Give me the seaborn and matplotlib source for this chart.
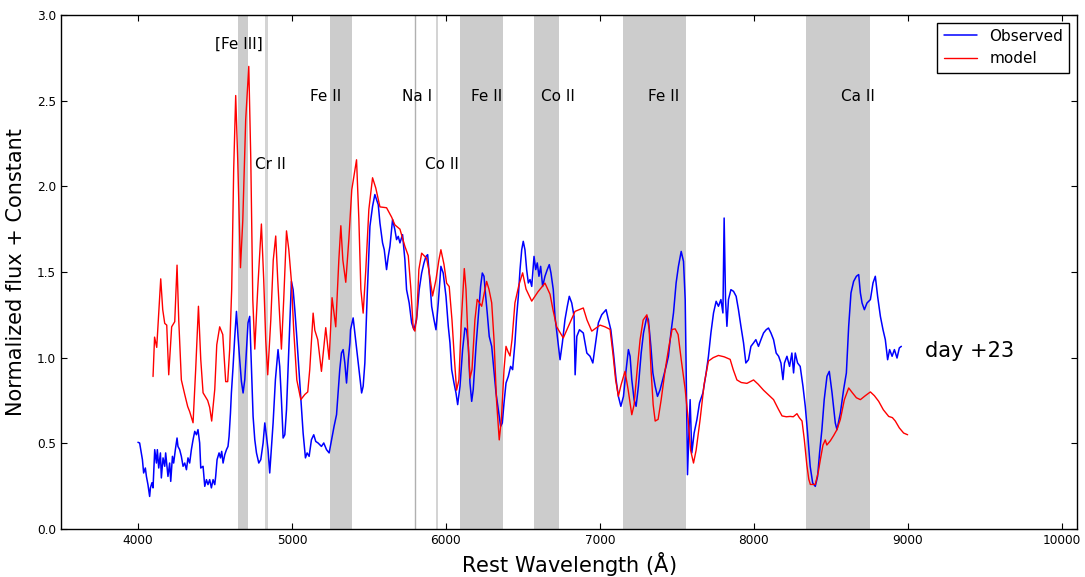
import matplotlib

matplotlib.use("Agg")
import matplotlib.pyplot as plt
import pandas as pd
import seaborn as sns


# observed spectrum (wavelength in Angstrom, normalized flux)
OBS_WAVE = [
    4000, 4011, 4022, 4029, 4037, 4048, 4055, 4065, 4076, 4081, 4091, 4098,
    4109, 4120, 4126, 4135, 4146, 4152, 4163, 4174, 4180, 4195, 4206, 4213,
    4224, 4232, 4243, 4254, 4260, 4271, 4282, 4293, 4304, 4315, 4325, 4336,
    4347, 4358, 4369, 4380, 4390, 4401, 4408, 4423, 4434, 4445, 4455, 4466,
    4477, 4488, 4499, 4505, 4514, 4527, 4536, 4544, 4553, 4564, 4575, 4585,
    4592, 4601, 4607, 4618, 4629, 4640, 4650, 4661, 4672, 4683, 4694, 4705,
    4715, 4726, 4737, 4748, 4759, 4770, 4785, 4798, 4813, 4824, 4835, 4845,
    4856, 4867, 4878, 4893, 4910, 4921, 4932, 4943, 4954, 4965, 4980, 4997,
    5008, 5019, 5030, 5047, 5058, 5073, 5088, 5099, 5112, 5127, 5142, 5155,
    5170, 5192, 5207, 5225, 5242, 5258, 5274, 5290, 5300, 5311, 5322, 5333,
    5344, 5355, 5366, 5377, 5381, 5398, 5416, 5431, 5453, 5463, 5474, 5489,
    5507, 5524, 5539, 5550, 5561, 5572, 5589, 5600, 5615, 5626, 5637, 5654,
    5669, 5680, 5691, 5702, 5719, 5734, 5745, 5762, 5778, 5793, 5810, 5827,
    5843, 5858, 5871, 5882, 5897, 5908, 5923, 5936, 5951, 5968, 5983, 6001,
    6016, 6027, 6038, 6053, 6066, 6077, 6092, 6109, 6124, 6135, 6146, 6157,
    6168, 6178, 6196, 6211, 6226, 6237, 6248, 6259, 6269, 6282, 6298, 6308,
    6326, 6341, 6356, 6367, 6378, 6391, 6406, 6421, 6434, 6449, 6460, 6471,
    6482, 6493, 6503, 6514, 6525, 6536, 6547, 6558, 6573, 6584, 6594, 6605,
    6616, 6629, 6644, 6659, 6672, 6683, 6698, 6709, 6724, 6742, 6757, 6774,
    6789, 6802, 6818, 6833, 6840, 6851, 6868, 6893, 6916, 6937, 6955, 6970,
    6991, 7013, 7041, 7056, 7072, 7089, 7106, 7121, 7137, 7154, 7169, 7186,
    7197, 7208, 7223, 7236, 7251, 7269, 7284, 7306, 7316, 7332, 7345, 7360,
    7375, 7392, 7414, 7431, 7446, 7462, 7479, 7496, 7511, 7529, 7544, 7555,
    7561, 7570, 7579, 7587, 7598, 7613, 7631, 7648, 7670, 7691, 7706, 7722,
    7739, 7756, 7771, 7787, 7800, 7808, 7817, 7826, 7836, 7852, 7869, 7886,
    7901, 7917, 7934, 7949, 7966, 7982, 7999, 8014, 8031, 8047, 8064, 8081,
    8096, 8112, 8129, 8146, 8162, 8177, 8190, 8200, 8216, 8233, 8248, 8259,
    8270, 8285, 8302, 8320, 8335, 8350, 8367, 8383, 8400, 8415, 8428, 8443,
    8458, 8476, 8491, 8509, 8530, 8541, 8563, 8584, 8602, 8617, 8632, 8649,
    8667, 8682, 8693, 8704, 8719, 8736, 8758, 8775, 8790, 8805, 8823, 8840,
    8855, 8870, 8883, 8899, 8914, 8931, 8946, 8959,
]
OBS_FLUX = [
    0.506, 0.502, 0.444, 0.405, 0.327, 0.356, 0.307, 0.259, 0.19, 0.24, 0.27, 0.24,
    0.463, 0.385, 0.463, 0.356, 0.444, 0.298, 0.415, 0.366, 0.444, 0.307, 0.385, 0.278,
    0.424, 0.385, 0.463, 0.531, 0.482, 0.463, 0.424, 0.366, 0.385, 0.346, 0.415, 0.385,
    0.463, 0.521, 0.57, 0.55, 0.58, 0.502, 0.356, 0.366, 0.249, 0.288, 0.259, 0.288,
    0.24, 0.288, 0.259, 0.307, 0.405, 0.444, 0.415, 0.453, 0.385, 0.434, 0.463, 0.482,
    0.541, 0.677, 0.794, 0.949, 1.124, 1.27, 1.124, 0.988, 0.862, 0.794, 0.872, 1.047,
    1.203, 1.241, 0.949, 0.657, 0.521, 0.444, 0.385, 0.405, 0.502, 0.619, 0.541, 0.463,
    0.327, 0.473, 0.619, 0.872, 1.047, 0.949, 0.755, 0.531, 0.55, 0.696, 1.047, 1.445,
    1.397, 1.28, 1.144, 0.911, 0.755, 0.56, 0.415, 0.444, 0.424, 0.521, 0.55, 0.511,
    0.502, 0.482, 0.502, 0.463, 0.444, 0.521, 0.599, 0.667, 0.794, 0.93, 1.027, 1.047,
    0.969, 0.852, 0.988, 1.086, 1.163, 1.232, 1.086, 0.969, 0.794, 0.833, 0.969, 1.358,
    1.767, 1.883, 1.952, 1.923, 1.893, 1.786, 1.67, 1.63, 1.514, 1.591, 1.65, 1.806,
    1.747, 1.689, 1.708, 1.67, 1.718, 1.572, 1.397, 1.319, 1.203, 1.163, 1.222, 1.397,
    1.494, 1.553, 1.591, 1.601, 1.436, 1.299, 1.222, 1.163, 1.319, 1.533, 1.494, 1.358,
    1.183, 1.086, 0.93, 0.852, 0.794, 0.726, 0.833, 1.047, 1.173, 1.163, 1.066, 0.852,
    0.745, 0.813, 1.066, 1.241, 1.416, 1.494, 1.475, 1.358, 1.261, 1.124, 1.066, 0.969,
    0.794, 0.696, 0.599, 0.619, 0.736, 0.852, 0.891, 0.949, 0.93, 1.086, 1.241, 1.358,
    1.514, 1.63, 1.679, 1.63, 1.514, 1.436, 1.456, 1.416, 1.591, 1.514, 1.553, 1.475,
    1.533, 1.416, 1.475, 1.514, 1.543, 1.494, 1.397, 1.241, 1.124, 0.988, 1.086, 1.222,
    1.299, 1.358, 1.319, 1.241, 0.90, 1.124, 1.163, 1.144, 1.027, 1.008, 0.969, 1.066,
    1.203, 1.251, 1.28, 1.222, 1.163, 1.027, 0.872, 0.774, 0.716, 0.774, 0.911, 1.047,
    1.008, 0.872, 0.755, 0.716, 0.833, 1.027, 1.144, 1.241, 1.222, 1.066, 0.911, 0.833,
    0.774, 0.813, 0.891, 0.949, 1.008, 1.144, 1.261, 1.436, 1.533, 1.62, 1.562, 1.339,
    0.949, 0.317, 0.56, 0.755, 0.444, 0.56, 0.638, 0.736, 0.794, 0.911, 1.008, 1.144,
    1.261, 1.329, 1.30, 1.339, 1.261, 1.815, 1.339, 1.183, 1.339, 1.397, 1.387, 1.358,
    1.28, 1.183, 1.086, 0.969, 0.988, 1.066, 1.086, 1.105, 1.066, 1.105, 1.144, 1.163,
    1.173, 1.144, 1.105, 1.027, 1.008, 0.969, 0.872, 0.969, 1.008, 0.949, 1.027, 0.911,
    1.027, 0.969, 0.949, 0.833, 0.716, 0.56, 0.365, 0.269, 0.249, 0.307, 0.444, 0.58,
    0.755, 0.891, 0.92, 0.794, 0.619, 0.58, 0.677, 0.813, 0.911, 1.183, 1.378, 1.445,
    1.475, 1.485, 1.378, 1.319, 1.28, 1.319, 1.339, 1.436, 1.475, 1.358, 1.241, 1.163,
    1.105, 0.988, 1.047, 1.008, 1.047, 0.998, 1.057, 1.066,
]

# model spectrum
MODEL_WAVE = [
    4098, 4108, 4122, 4148, 4161, 4174, 4187, 4200, 4219, 4239, 4254, 4265,
    4282, 4304, 4323, 4336, 4358, 4375, 4393, 4408, 4423, 4440, 4453, 4466,
    4479, 4499, 4512, 4531, 4551, 4570, 4583, 4596, 4609, 4622, 4635, 4648,
    4666, 4681, 4700, 4720, 4733, 4746, 4759, 4778, 4802, 4817, 4830, 4843,
    4863, 4879, 4895, 4908, 4932, 4947, 4965, 4980, 4997, 5012, 5032, 5058,
    5084, 5103, 5116, 5138, 5149, 5168, 5192, 5220, 5242, 5261, 5285, 5305,
    5318, 5331, 5350, 5370, 5389, 5420, 5435, 5448, 5463, 5480, 5500, 5524,
    5545, 5572, 5615, 5648, 5669, 5702, 5734, 5756, 5773, 5788, 5799, 5812,
    5825, 5843, 5875, 5890, 5914, 5936, 5955, 5968, 5988, 6005, 6022, 6040,
    6056, 6070, 6085, 6101, 6120, 6131, 6144, 6157, 6170, 6189, 6204, 6233,
    6248, 6265, 6280, 6298, 6313, 6329, 6347, 6361, 6378, 6391, 6404, 6417,
    6430, 6449, 6475, 6499, 6521, 6558, 6599, 6644, 6677, 6696, 6720, 6763,
    6800, 6839, 6893, 6917, 6948, 7002, 7034, 7067, 7086, 7103, 7121, 7138,
    7164, 7184, 7208, 7223, 7243, 7262, 7282, 7306, 7321, 7333, 7347, 7360,
    7379, 7399, 7425, 7451, 7470, 7490, 7509, 7529, 7555, 7574, 7590, 7609,
    7626, 7652, 7678, 7706, 7737, 7771, 7808, 7847, 7867, 7891, 7919, 7956,
    7999, 8029, 8064, 8094, 8129, 8160, 8184, 8212, 8237, 8257, 8281, 8296,
    8314, 8329, 8345, 8358, 8368, 8400, 8420, 8433, 8450, 8465, 8475, 8498,
    8519, 8541, 8563, 8589, 8617, 8641, 8667, 8693, 8725, 8758, 8784, 8812,
    8842, 8877, 8901, 8920, 8946, 8974, 9000,
]
MODEL_FLUX = [
    0.89, 1.12, 1.06, 1.46, 1.28, 1.20, 1.19, 0.90, 1.18, 1.21, 1.54, 1.22,
    0.87, 0.785, 0.715, 0.685, 0.62, 0.93, 1.30, 0.99, 0.795, 0.77, 0.75, 0.71,
    0.63, 0.815, 1.075, 1.18, 1.135, 0.86, 0.86, 1.05, 1.40, 2.10, 2.53, 2.16,
    1.525, 1.80, 2.39, 2.70, 2.16, 1.34, 1.05, 1.40, 1.78, 1.455, 1.105, 0.90,
    1.22, 1.57, 1.71, 1.455, 1.05, 1.34, 1.74, 1.63, 1.445, 1.16, 0.87, 0.755,
    0.785, 0.80, 0.93, 1.26, 1.16, 1.105, 0.92, 1.175, 0.99, 1.35, 1.18, 1.57,
    1.77, 1.57, 1.44, 1.69, 1.98, 2.155, 1.81, 1.40, 1.26, 1.51, 1.865, 2.05,
    1.99, 1.88, 1.875, 1.82, 1.775, 1.75, 1.65, 1.595, 1.40, 1.175, 1.155, 1.25,
    1.515, 1.61, 1.58, 1.51, 1.36, 1.455, 1.57, 1.63, 1.545, 1.435, 1.415, 1.22,
    0.99, 0.81, 0.87, 1.22, 1.52, 1.40, 1.105, 0.88, 0.93, 1.22, 1.34, 1.30,
    1.37, 1.445, 1.40, 1.32, 1.105, 0.755, 0.52, 0.64, 0.93, 1.066, 1.035, 1.01,
    1.105, 1.32, 1.425, 1.495, 1.40, 1.33, 1.385, 1.435, 1.37, 1.28, 1.18, 1.115,
    1.19, 1.27, 1.29, 1.22, 1.155, 1.19, 1.18, 1.165, 1.02, 0.87, 0.775, 0.84,
    0.92, 0.815, 0.667, 0.725, 0.93, 1.105, 1.22, 1.25, 1.165, 0.93, 0.725, 0.63,
    0.64, 0.755, 0.93, 1.075, 1.165, 1.168, 1.135, 0.99, 0.815, 0.64, 0.46, 0.385,
    0.46, 0.64, 0.845, 0.98, 1.00, 1.013, 1.005, 0.99, 0.93, 0.87, 0.855, 0.85,
    0.87, 0.845, 0.81, 0.785, 0.755, 0.70, 0.66, 0.655, 0.657, 0.655, 0.673, 0.65,
    0.63, 0.52, 0.375, 0.29, 0.26, 0.26, 0.335, 0.405, 0.49, 0.52, 0.49, 0.515,
    0.545, 0.58, 0.64, 0.755, 0.823, 0.795, 0.766, 0.755, 0.778, 0.80, 0.778, 0.745,
    0.696, 0.657, 0.65, 0.63, 0.59, 0.56, 0.55,
]

# shaded line regions and thin marker lines (Angstrom)
BAND_START = [4650, 5250, 6095, 6570, 7148, 8340]
BAND_END = [4718, 5390, 6370, 6738, 7562, 8757]
THIN_BANDS = [(4828, 4842), (5936, 5950)]
NA_LINE = 5800

LABELS = ["[Fe III]", "Cr II", "Fe II", "Na I", "Co II", "Fe II", "Co II", "Fe II", "Ca II"]
LABEL_X = [4655, 4860, 5217, 5812, 5978, 6267, 6729, 7412, 8680]
LABEL_Y = [2.83, 2.125, 2.525, 2.525, 2.125, 2.525, 2.525, 2.525, 2.525]


def main() -> None:
    sns.set_style("ticks")
    plt.rcParams.update({
        "font.family": ["DejaVu Sans"],
        "text.color": "black",
        "axes.labelcolor": "black",
        "xtick.color": "black",
        "ytick.color": "black",
        "xtick.direction": "in",
        "ytick.direction": "in",
        "xtick.top": True,
        "ytick.right": True,
        "xtick.major.size": 4,
        "ytick.major.size": 4,
        "xtick.labelsize": 8.7,
        "ytick.labelsize": 8.7,
        "axes.edgecolor": "black",
        "axes.linewidth": 1.0,
    })

    obs = pd.DataFrame({"wave": OBS_WAVE, "flux": OBS_FLUX})
    model = pd.DataFrame({"wave": MODEL_WAVE, "flux": MODEL_FLUX})

    fig, ax = plt.subplots(figsize=(10.85, 5.77), dpi=100)
    fig.subplots_adjust(left=0.0562, right=0.9926, top=0.974, bottom=0.0832)

    for start, end in zip(BAND_START, BAND_END):
        ax.axvspan(start, end, color="#cccccc", lw=0, zorder=0)
    for start, end in THIN_BANDS:
        ax.axvspan(start, end, color="#d4d4d4", lw=0, zorder=0)
    ax.axvline(NA_LINE, color="#b0b0b0", lw=1.0, zorder=0)

    sns.lineplot(data=obs, x="wave", y="flux", ax=ax, color="blue", lw=1.1,
                 sort=False, estimator=None, label="Observed")
    sns.lineplot(data=model, x="wave", y="flux", ax=ax, color="red", lw=1.0,
                 sort=False, estimator=None, label="model")

    for text, x, y in zip(LABELS, LABEL_X, LABEL_Y):
        ax.text(x, y, text, ha="center", va="center", fontsize=11)
    ax.text(9401, 1.037, "day +23", ha="center", va="center", fontsize=15)

    ax.set_xlim(3500, 10100)
    ax.set_ylim(0, 3.0)
    ax.set_xticks(range(4000, 10001, 1000))
    ax.set_yticks([0.0, 0.5, 1.0, 1.5, 2.0, 2.5, 3.0])
    ax.set_yticklabels(["0.0", "0.5", "1.0", "1.5", "2.0", "2.5", "3.0"])
    ax.set_xlabel(r"Rest Wavelength ($\mathrm{\AA}$)", fontsize=15, labelpad=2)
    ax.set_ylabel("Normalized flux + Constant", fontsize=15, labelpad=8)

    leg = ax.legend(loc="upper right", fontsize=11, fancybox=False, framealpha=1,
                    edgecolor="black", handlelength=2.2, borderpad=0.4)
    leg.get_frame().set_linewidth(1.0)

    fig.savefig("out.png", dpi=100)
    plt.close(fig)


if __name__ == "__main__":
    main()
